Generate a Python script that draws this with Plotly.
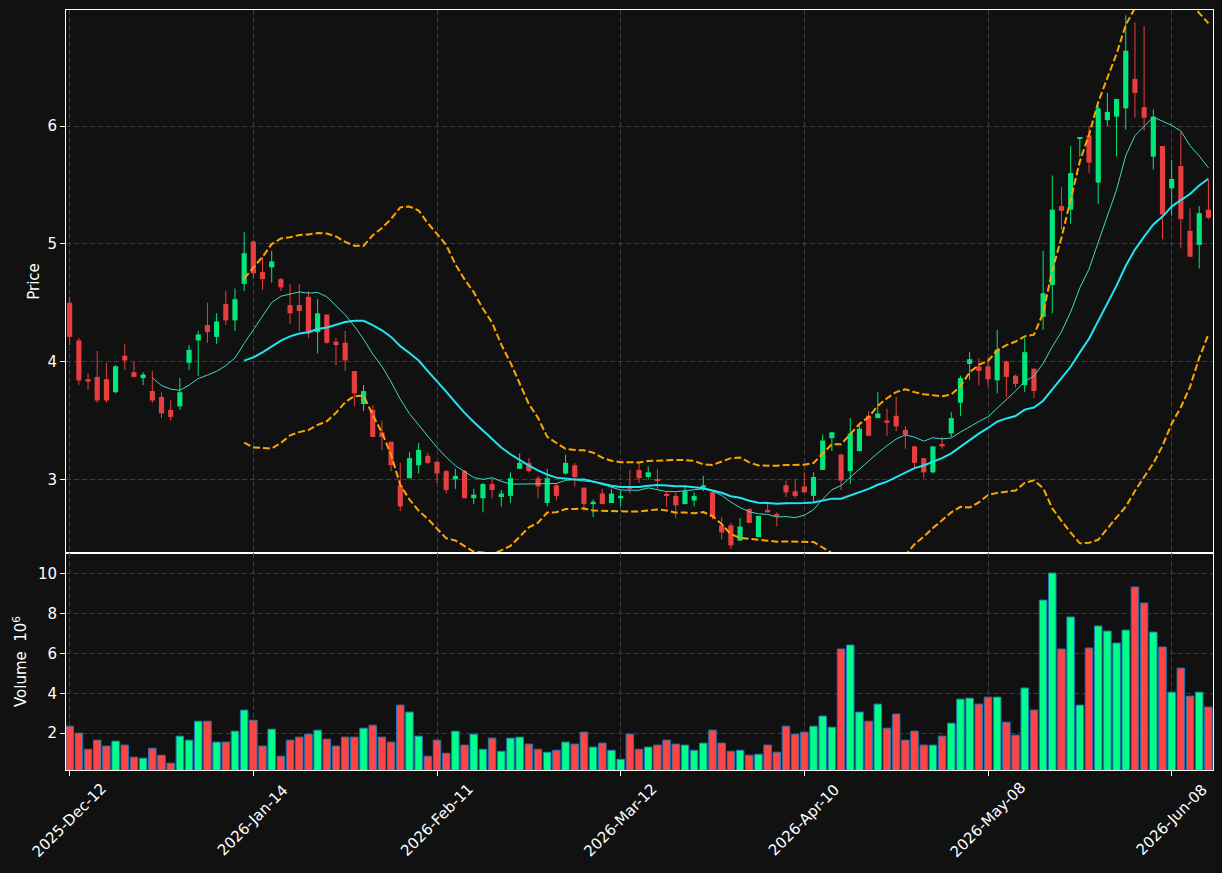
import pandas as pd
import plotly.graph_objects as go

# ---------------- data ----------------
opens = [4.50, 4.18, 3.85, 3.87, 3.85, 3.74, 4.05, 3.91, 3.86, 3.75,
         3.70, 3.59, 3.62, 3.99, 4.18, 4.31, 4.21, 4.49, 4.35, 4.66,
         5.02, 4.76, 4.80, 4.70, 4.48, 4.48, 4.55, 4.25, 4.40, 4.17,
         4.16, 3.92, 3.64, 3.59, 3.40, 3.32, 2.95, 3.01, 3.12, 3.20,
         3.15, 3.07, 3.00, 3.07, 2.84, 2.84, 2.96, 2.85, 2.86, 3.09,
         3.14, 3.01, 2.80, 2.95, 3.05, 3.12, 2.93, 2.79, 2.88, 2.80,
         2.84, 2.94, 3.08, 3.02, 3.00, 2.87, 2.86, 2.79, 2.82, 2.93,
         2.89, 2.61, 2.61, 2.48, 2.75, 2.51, 2.74, 2.70, 2.95, 2.90,
         2.94, 2.86, 3.08, 3.35, 3.21, 3.07, 3.24, 3.54, 3.52, 3.50,
         3.54, 3.42, 3.28, 3.18, 3.06, 3.30, 3.39, 3.65, 3.98, 3.96,
         3.96, 3.84, 4.00, 3.88, 3.80, 3.94, 4.38, 4.65, 5.32, 5.29,
         5.89, 5.92, 5.52, 6.05, 6.08, 6.15, 6.40, 6.16, 5.74, 5.83,
         5.47, 5.66, 5.11, 4.99, 5.29]
highs = [4.55, 4.20, 3.90, 4.09, 3.99, 3.97, 4.15, 4.00, 3.91, 3.92,
         3.74, 3.67, 3.86, 4.14, 4.26, 4.50, 4.41, 4.60, 4.62, 5.10,
         5.03, 4.89, 4.94, 4.71, 4.66, 4.66, 4.60, 4.53, 4.40, 4.20,
         4.26, 3.92, 3.80, 3.63, 3.50, 3.32, 3.14, 3.23, 3.31, 3.23,
         3.15, 3.08, 3.09, 3.08, 2.92, 2.97, 3.00, 2.91, 3.06, 3.22,
         3.18, 3.03, 3.09, 2.97, 3.21, 3.14, 2.93, 2.83, 2.92, 2.92,
         2.90, 3.08, 3.14, 3.11, 3.09, 2.90, 2.89, 2.94, 2.89, 3.03,
         2.90, 2.68, 2.63, 2.67, 2.75, 2.69, 2.79, 2.72, 2.99, 3.00,
         3.06, 3.06, 3.38, 3.40, 3.22, 3.52, 3.47, 3.58, 3.74, 3.60,
         3.70, 3.45, 3.28, 3.18, 3.28, 3.36, 3.57, 3.88, 4.08, 4.03,
         4.03, 4.27, 4.01, 3.89, 4.20, 3.94, 4.94, 5.58, 5.48, 5.83,
         5.90, 6.00, 6.17, 6.28, 6.23, 6.94, 6.88, 6.85, 6.14, 5.83,
         5.71, 5.95, 5.30, 5.32, 5.54]
lows = [4.14, 3.80, 3.76, 3.65, 3.65, 3.73, 3.93, 3.87, 3.80, 3.65,
        3.52, 3.50, 3.59, 3.93, 3.88, 4.16, 4.15, 4.31, 4.26, 4.60,
        4.71, 4.61, 4.67, 4.60, 4.32, 4.26, 4.20, 4.07, 4.15, 3.97,
        3.92, 3.62, 3.58, 3.36, 3.25, 3.07, 2.73, 3.01, 3.05, 3.13,
        2.97, 2.88, 2.92, 2.84, 2.79, 2.72, 2.84, 2.77, 2.80, 3.09,
        3.06, 2.84, 2.77, 2.82, 3.04, 2.94, 2.73, 2.68, 2.79, 2.80,
        2.77, 2.88, 2.97, 3.00, 2.92, 2.77, 2.67, 2.79, 2.77, 2.90,
        2.66, 2.49, 2.41, 2.48, 2.63, 2.51, 2.72, 2.60, 2.85, 2.84,
        2.89, 2.80, 3.08, 3.24, 2.91, 2.96, 3.24, 3.37, 3.52, 3.37,
        3.41, 3.26, 3.09, 3.01, 3.05, 3.26, 3.36, 3.54, 3.84, 3.80,
        3.79, 3.73, 3.70, 3.78, 3.74, 3.69, 4.27, 4.41, 5.12, 5.17,
        5.74, 5.60, 5.34, 6.00, 5.74, 5.97, 6.07, 5.96, 5.63, 5.04,
        5.24, 4.96, 4.89, 4.79, 5.21]
closes = [4.21, 3.84, 3.83, 3.67, 3.67, 3.96, 4.01, 3.87, 3.89, 3.67,
          3.56, 3.53, 3.74, 4.10, 4.23, 4.25, 4.34, 4.35, 4.53, 4.92,
          4.75, 4.70, 4.85, 4.63, 4.41, 4.43, 4.24, 4.41, 4.16, 4.14,
          4.01, 3.73, 3.75, 3.36, 3.36, 3.12, 2.77, 3.18, 3.25, 3.14,
          3.05, 2.91, 3.03, 2.84, 2.87, 2.96, 2.91, 2.88, 3.01, 3.14,
          3.07, 2.94, 3.01, 2.86, 3.14, 3.02, 2.79, 2.81, 2.79, 2.88,
          2.86, 2.92, 3.01, 3.06, 2.99, 2.86, 2.78, 2.90, 2.86, 2.95,
          2.68, 2.55, 2.44, 2.60, 2.63, 2.69, 2.72, 2.69, 2.89, 2.86,
          2.89, 3.02, 3.33, 3.40, 2.99, 3.39, 3.43, 3.37, 3.56, 3.48,
          3.45, 3.38, 3.14, 3.06, 3.28, 3.28, 3.52, 3.86, 4.02, 3.92,
          3.85, 4.10, 3.87, 3.81, 4.08, 3.75, 4.58, 5.29, 5.28, 5.60,
          5.90, 5.69, 6.15, 6.12, 6.23, 6.64, 6.28, 6.07, 6.08, 5.25,
          5.55, 5.21, 4.89, 5.26, 5.22]
volumes_m = [2.35, 2.00, 1.19, 1.65, 1.35, 1.60, 1.40, 0.79, 0.74, 1.24,
             0.89, 0.49, 1.85, 1.65, 2.60, 2.60, 1.55, 1.55, 2.10, 3.16,
             2.65, 1.35, 2.20, 0.84, 1.65, 1.80, 1.95, 2.15, 1.70, 1.35,
             1.80, 1.80, 2.25, 2.40, 1.80, 1.55, 3.41, 3.06, 1.85, 0.84,
             1.65, 0.99, 2.10, 1.40, 1.95, 1.19, 1.75, 1.09, 1.75, 1.80,
             1.45, 1.19, 1.04, 1.14, 1.55, 1.45, 2.05, 1.30, 1.50, 1.14,
             0.69, 1.95, 1.19, 1.30, 1.40, 1.65, 1.45, 1.40, 1.14, 1.50,
             2.15, 1.50, 1.09, 1.14, 0.89, 0.94, 1.40, 1.04, 2.35, 1.95,
             2.05, 2.35, 2.86, 2.30, 6.23, 6.43, 3.06, 2.60, 3.46, 2.25,
             2.96, 1.65, 2.10, 1.40, 1.40, 1.85, 2.50, 3.71, 3.76, 3.46,
             3.81, 3.81, 2.55, 1.90, 4.27, 3.16, 8.69, 10.05, 6.23, 7.84,
             3.41, 6.28, 7.39, 7.13, 6.53, 7.18, 9.35, 8.54, 7.08, 6.33,
             4.06, 5.27, 3.86, 4.06, 3.31]
tick_positions = [0, 20, 40, 60, 80, 100, 120]
tick_labels = ["2025-Dec-12", "2026-Jan-14", "2026-Feb-11", "2026-Mar-12",
               "2026-Apr-10", "2026-May-08", "2026-Jun-08"]

# ---------------- derived studies ----------------
n = len(closes)
idx = list(range(n))
cs = pd.Series(closes)
mav10 = cs.rolling(10).mean()
mav20 = cs.rolling(20).mean()
std20 = cs.rolling(20).std(ddof=0)
bb_up = mav20 + 2 * std20
bb_lo = mav20 - 2 * std20

UP_VOL, DN_VOL = "#00ff88", "#ff4444"
UP_C, DN_C = "#02e77c", "#e73f3f"   # candle colours (alpha 0.9 over #111)
BG = "#111111"
GRID = "#3d3d3d"
FONT = "DejaVu Sans"

is_up = [c >= o for o, c in zip(opens, closes)]

fig = go.Figure()

# wicks
for up, col in ((True, UP_C), (False, DN_C)):
    wx, wy = [], []
    for i in idx:
        if is_up[i] == up:
            wx += [i, i, None]
            wy += [lows[i], highs[i], None]
    fig.add_trace(go.Scatter(x=wx, y=wy, mode="lines", xaxis="x", yaxis="y",
                             line=dict(color=col, width=1), hoverinfo="skip"))

# bodies
for up, col in ((True, UP_C), (False, DN_C)):
    bx = [i for i in idx if is_up[i] == up]
    base = [min(opens[i], closes[i]) for i in bx]
    hgt = [max(abs(closes[i] - opens[i]), 0.01) for i in bx]
    fig.add_trace(go.Bar(x=bx, y=hgt, base=base, width=0.56, xaxis="x", yaxis="y",
                         marker=dict(color=col, line=dict(width=0))))

# moving averages & bands
fig.add_trace(go.Scatter(x=idx, y=mav10, mode="lines", xaxis="x", yaxis="y",
                         line=dict(color="#40d8c8", width=1)))
fig.add_trace(go.Scatter(x=idx, y=mav20, mode="lines", xaxis="x", yaxis="y",
                         line=dict(color="#1ee6f5", width=2)))
for band in (bb_up, bb_lo):
    fig.add_trace(go.Scatter(x=idx, y=band, mode="lines", xaxis="x", yaxis="y",
                             line=dict(color="#ffa500", width=2, dash="7px,3px")))

# volume
fig.add_trace(go.Bar(x=idx, y=volumes_m, width=0.82, xaxis="x2", yaxis="y2",
                     marker=dict(color=[UP_VOL if u else DN_VOL for u in is_up],
                                 line=dict(color="#1f77b4", width=1))))

split = 217 / 760
axis_common = dict(showline=True, mirror=True, linecolor="white", linewidth=1,
                   gridcolor=GRID, griddash="5px,3px", gridwidth=1, zeroline=False,
                   tickfont=dict(family=FONT, size=15, color="white"),
                   tickcolor="white", ticklen=5, tickwidth=1)

fig.update_layout(
    width=1222, height=873,
    paper_bgcolor=BG, plot_bgcolor=BG,
    margin=dict(l=66, r=9, t=10, b=103),
    showlegend=False, barmode="overlay",
    font=dict(family=FONT, size=15, color="white"),
    xaxis=dict(domain=[0, 1], anchor="y", range=[-0.4, 124.5],
               tickvals=tick_positions, showticklabels=False, ticks="", **axis_common),
    yaxis=dict(domain=[split, 1], anchor="x", range=[2.375, 6.985],
               tickvals=[3, 4, 5, 6], ticks="outside",
               title=dict(text="Price", standoff=4,
                          font=dict(family=FONT, size=15, color="white")),
               **axis_common),
    xaxis2=dict(domain=[0, 1], anchor="y2", matches="x", range=[-0.4, 124.5],
                tickvals=tick_positions, showticklabels=False, ticks="outside",
                **axis_common),
    yaxis2=dict(domain=[0, split], anchor="x2",
                range=[0.3 * min(volumes_m), 1.1 * max(volumes_m)],
                tickvals=[2, 4, 6, 8, 10], ticks="outside",
                title=dict(text="Volume  10<sup>6</sup>", standoff=7,
                           font=dict(family=FONT, size=15, color="white")),
                **axis_common),
)

for pos, lab in zip(tick_positions, tick_labels):
    fig.add_annotation(x=pos, y=-0.0664, xref="x2", yref="paper", text=lab,
                       textangle=-45, showarrow=False, xanchor="center", yanchor="middle",
                       font=dict(family=FONT, size=15, color="white"))

fig.write_html("out.html")
